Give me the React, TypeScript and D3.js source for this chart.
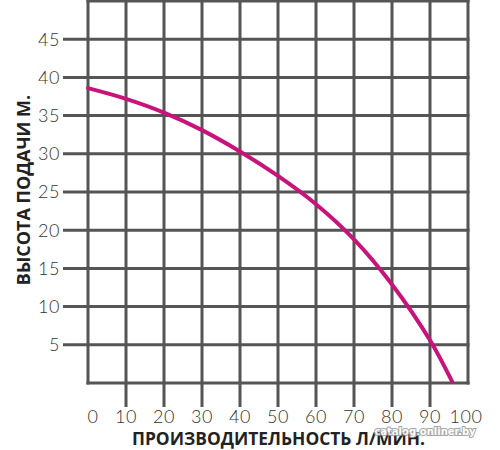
import React from "react";
import * as d3 from "d3";

const flowValues = [0, 10, 20, 30, 40, 50, 60, 70, 80, 90, 95.8];
const headValues = [38.6, 37.2, 35.4, 33.1, 30.3, 27.1, 23.4, 18.8, 12.9, 5.6, 0.2];
const xTicks = [0, 10, 20, 30, 40, 50, 60, 70, 80, 90, 100];
const yTicks = [5, 10, 15, 20, 25, 30, 35, 40, 45];
const xTitle = "ПРОИЗВОДИТЕЛЬНОСТЬ Л/МИН.";
const yTitle = "ВЫСОТА ПОДАЧИ М.";
const watermark = "catalog.onliner.by";

export default function App() {
  const left = 88, right = 468, top = 1, bottom = 383;
  const x = d3.scaleLinear().domain([0, 100]).range([left, right]);
  const y = d3.scaleLinear().domain([0, 50]).range([bottom, top]);
  const gridColor = "#555555";
  const sw = 3;
  const pts = flowValues.map((f, i) => [f, headValues[i]] as [number, number]);
  const line = d3
    .line<[number, number]>()
    .x((d) => x(d[0]))
    .y((d) => y(d[1]))
    .curve(d3.curveCatmullRom.alpha(0.5));
  const numFont = "Lato, 'Open Sans', sans-serif";
  return (
    <svg
      width={500}
      height={450}
      style={{ position: "absolute", left: 0, top: 0, background: "#fff" }}
    >
      {[0, ...yTicks, 50].map((v) => (
        <line
          key={"h" + v}
          x1={v === 0 || v === 50 ? left - sw / 2 : 63}
          x2={right + sw / 2}
          y1={y(v)}
          y2={y(v)}
          stroke={gridColor}
          strokeWidth={sw}
        />
      ))}
      {xTicks.map((v) => (
        <line
          key={"v" + v}
          x1={x(v)}
          x2={x(v)}
          y1={y(50) - sw / 2}
          y2={v === 0 || v === 100 ? bottom + sw / 2 : 407}
          stroke={gridColor}
          strokeWidth={sw}
        />
      ))}
      {yTicks.map((v) => (
        <text
          key={"yl" + v}
          x={60}
          y={y(v)}
          dy="0.36em"
          textAnchor="end"
          fontFamily={numFont}
          fontWeight={300}
          fontSize={18}
          letterSpacing={0.5}
          fill="#333"
        >
          {v}
        </text>
      ))}
      {xTicks.map((v) => (
        <text
          key={"xl" + v}
          x={v === 0 ? x(v) + 5 : v === 100 ? x(v) - 2 : x(v)}
          y={423}
          textAnchor="middle"
          fontFamily={numFont}
          fontWeight={300}
          fontSize={18}
          letterSpacing={0.5}
          fill="#333"
        >
          {v}
        </text>
      ))}
      <path d={line(pts) || ""} fill="none" stroke="#C8147A" strokeWidth={4} strokeLinecap="round" />
      <text
        x={132}
        y={445}
        textAnchor="start"
        fontFamily="'Open Sans', sans-serif"
        fontWeight={700}
        fontSize={18}
        textLength={293}
        lengthAdjust="spacingAndGlyphs"
        fill="#222"
      >
        {xTitle}
      </text>
      <text
        transform={`translate(30,${190}) rotate(-90)`}
        textAnchor="middle"
        fontFamily="'Open Sans', sans-serif"
        fontWeight={700}
        fontSize={18}
        fill="#222"
      >
        {yTitle}
      </text>
      <text
        x={425}
        y={435}
        textAnchor="middle"
        fontFamily="'DejaVu Sans', sans-serif"
        fontWeight={700}
        fontSize={10}
        fill="#fff"
        stroke="#999"
        strokeWidth={2}
        paintOrder="stroke"
        opacity={0.85}
      >
        {watermark}
      </text>
    </svg>
  );
}
